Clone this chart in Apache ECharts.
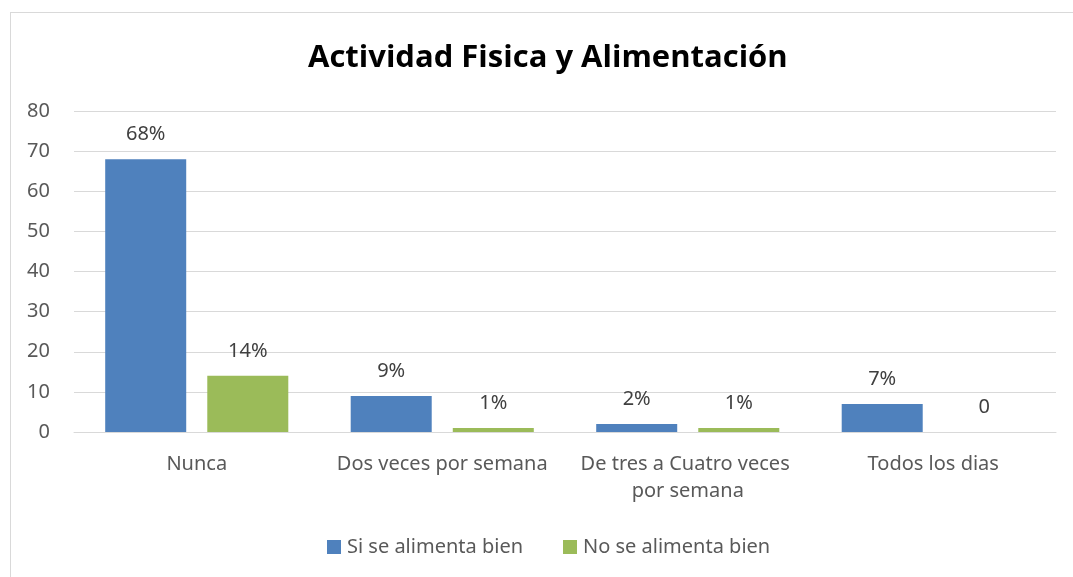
<!DOCTYPE html>
<html>
<head>
<meta charset="utf-8">
<script src="https://cdn.jsdelivr.net/npm/echarts@6/dist/echarts.min.js"></script>
<style>
  html, body { margin: 0; padding: 0; background: #fff; }
  #frame { position: absolute; left: 10px; top: 12px; width: 1080px; height: 600px; border: 1px solid #d9d9d9; }
  #chart { position: absolute; left: 0; top: 0; width: 1073px; height: 577px; }
</style>
</head>
<body>
<div id="frame"></div>
<div id="chart"></div>
<script>
// categorias y valores
const categorias = ['Nunca', 'Dos veces por semana', 'De tres a Cuatro veces por semana', 'Todos los dias'];
const siAlimenta = [68, 9, 2, 7];
const noAlimenta = [14, 1, 1, 0];
const etiquetasSi = ['68%', '9%', '2%', '7%'];
const etiquetasNo = ['14%', '1%', '1%', '0'];

var myChart = echarts.init(document.getElementById('chart'));

const font = '"Noto Sans", "Open Sans", sans-serif';

const option = {
  animation: false,
  title: {
    text: 'Actividad Fisica y Alimentación',
    left: 303,
    top: 38,
    textStyle: {
      fontFamily: '"Open Sans", sans-serif',
      fontSize: 31,
      fontWeight: 'bold',
      color: '#000',
    },
  },
  legend: {
    top: 532,
    left: 322,
    itemWidth: 14,
    itemHeight: 14,
    itemGap: 40,
    icon: 'rect',
    textStyle: { fontFamily: font, fontSize: 20, color: '#595959', padding: [0, 0, 0, 1] },
    data: ['Si se alimenta bien', 'No se alimenta bien'],
  },
  grid: {
    left: 74,
    right: 17,
    top: 111,
    bottom: 145,
  },
  xAxis: {
    type: 'category',
    data: categorias,
    axisTick: { show: false },
    axisLine: { lineStyle: { color: '#d9d9d9' } },
    axisLabel: {
      color: '#595959',
      fontFamily: font,
      fontSize: 20,
      margin: 19,
      width: 235,
      overflow: 'break',
      lineHeight: 27,
      interval: 0,
    },
  },
  yAxis: {
    type: 'value',
    min: 0,
    max: 80,
    interval: 10,
    axisLine: { show: false },
    axisTick: { show: false },
    splitLine: { lineStyle: { color: '#d9d9d9' } },
    axisLabel: {
      color: '#595959',
      fontFamily: font,
      fontSize: 20,
      margin: 24,
    },
  },
  series: [
    {
      name: 'Si se alimenta bien',
      type: 'bar',
      data: siAlimenta,
      barWidth: '33%',
      barGap: '26%',
      itemStyle: { color: '#4f81bd' },
      label: {
        show: true,
        position: 'top',
        distance: 15,
        color: '#404040',
        fontFamily: font,
        fontSize: 20,
        formatter: (p) => etiquetasSi[p.dataIndex],
      },
    },
    {
      name: 'No se alimenta bien',
      type: 'bar',
      data: noAlimenta,
      barWidth: '33%',
      itemStyle: { color: '#9bbb59' },
      label: {
        show: true,
        position: 'top',
        distance: 15,
        color: '#404040',
        fontFamily: font,
        fontSize: 20,
        formatter: (p) => etiquetasNo[p.dataIndex],
      },
    },
  ],
};

myChart.setOption(option);
</script>
</body>
</html>
